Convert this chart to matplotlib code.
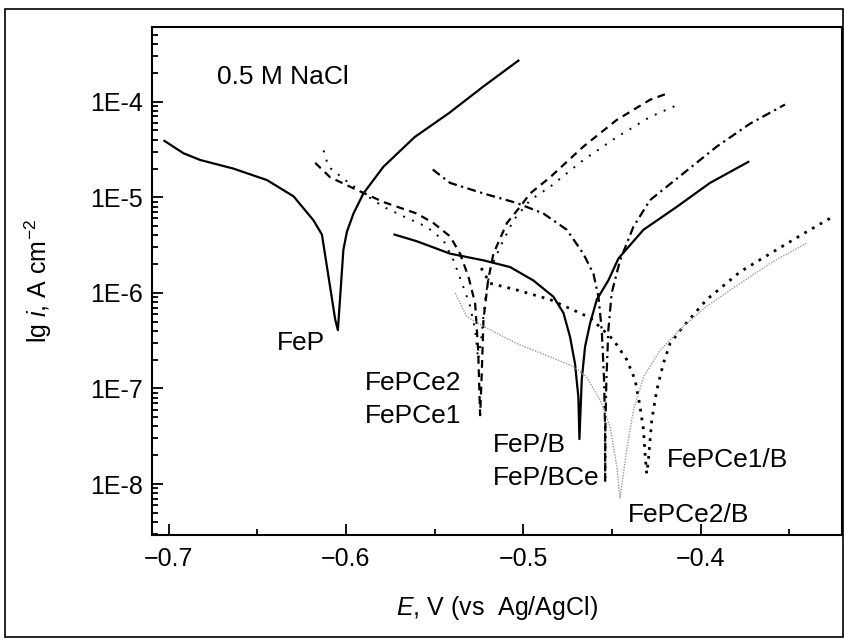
import matplotlib
matplotlib.use("Agg")
import matplotlib.pyplot as plt
import numpy as np
from matplotlib.patches import Rectangle
from matplotlib.ticker import FixedLocator, FixedFormatter, LogLocator, NullFormatter, MultipleLocator

plt.rcParams["font.family"] = ["Liberation Sans", "DejaVu Sans"]
plt.rcParams["mathtext.fontset"] = "custom"
plt.rcParams["mathtext.rm"] = "Liberation Sans"
plt.rcParams["mathtext.it"] = "Liberation Sans:italic"

# potentials E (V vs Ag/AgCl) and lg i (A cm-2)
fep_E = [-0.7023, -0.6915, -0.6821, -0.6634, -0.6445, -0.6295, -0.6183, -0.6135,
         -0.6060, -0.6045, -0.6014, -0.5994, -0.5957, -0.5901, -0.5788, -0.5612,
         -0.5419, -0.5224, -0.5027]
fep_lg = [-4.41, -4.54, -4.61, -4.70, -4.82, -4.99, -5.24, -5.39,
          -6.28, -6.39, -5.55, -5.36, -5.17, -4.96, -4.68, -4.37,
          -4.12, -3.84, -3.57]

fepb_E = [-0.5726, -0.5600, -0.5412, -0.5224, -0.5074, -0.4943, -0.4830, -0.4773,
          -0.4736, -0.4708, -0.4689, -0.4683, -0.4670, -0.4651, -0.4623, -0.4585,
          -0.4520, -0.4463, -0.4322, -0.4134, -0.3947, -0.3731]
fepb_lg = [-5.39, -5.46, -5.59, -5.66, -5.73, -5.87, -6.04, -6.21,
           -6.46, -6.74, -7.09, -7.53, -6.91, -6.56, -6.32, -6.07,
           -5.87, -5.64, -5.34, -5.10, -4.85, -4.63]

fepce_dash_E = [-0.6173, -0.6089, -0.5976, -0.5788, -0.5600, -0.5506, -0.5412, -0.5356,
                -0.5309, -0.5271, -0.5254, -0.5243, -0.5235, -0.5224, -0.5198, -0.5168,
                -0.5092, -0.5018, -0.4961, -0.4848, -0.4661, -0.4472, -0.4285, -0.4182]
fepce_dash_lg = [-4.64, -4.79, -4.89, -5.05, -5.17, -5.27, -5.41, -5.59,
                 -5.83, -6.11, -6.60, -7.28, -6.91, -6.28, -5.87, -5.59,
                 -5.27, -5.10, -4.96, -4.79, -4.47, -4.19, -3.98, -3.91]

fepce_dot_E = [-0.6126, -0.6098, -0.6004, -0.5901, -0.5788, -0.5675, -0.5543, -0.5450,
               -0.5393, -0.5337, -0.5299, -0.5271, -0.5254, -0.5237, -0.5215, -0.5187,
               -0.5130, -0.5055, -0.4961, -0.4848, -0.4661, -0.4472, -0.4285, -0.4138]
fepce_dot_lg = [-4.51, -4.68, -4.82, -4.96, -5.10, -5.20, -5.31, -5.45,
                -5.66, -5.94, -6.14, -6.39, -6.70, -6.49, -6.07, -5.76,
                -5.52, -5.24, -5.03, -4.89, -4.61, -4.37, -4.16, -4.04]

fepbce_E = [-0.5510, -0.5412, -0.5224, -0.5036, -0.4886, -0.4754, -0.4661, -0.4604,
            -0.4576, -0.4557, -0.4544, -0.4538, -0.4538, -0.4537, -0.4531, -0.4520,
            -0.4501, -0.4454, -0.4379, -0.4285, -0.4097, -0.3909, -0.3721, -0.3524]
fepbce_lg = [-4.71, -4.85, -4.96, -5.06, -5.17, -5.34, -5.59, -5.80,
             -6.04, -6.39, -6.91, -7.43, -7.98, -7.43, -6.91, -6.39,
             -6.00, -5.66, -5.31, -5.03, -4.75, -4.47, -4.23, -4.03]

fepce1b_E = [-0.5237, -0.5187, -0.5036, -0.4848, -0.4623, -0.4492, -0.4416, -0.4369,
             -0.4341, -0.4322, -0.4313, -0.4304, -0.4294, -0.4275, -0.4247, -0.4210,
             -0.4172, -0.4097, -0.3965, -0.3777, -0.3590, -0.3401, -0.3270]
fepce1b_lg = [-5.74, -5.90, -5.97, -6.07, -6.26, -6.49, -6.70, -6.91,
              -7.19, -7.43, -7.68, -7.89, -7.75, -7.33, -7.02, -6.74,
              -6.53, -6.35, -6.07, -5.78, -5.57, -5.36, -5.22]

fepce2b_E = [-0.5384, -0.5318, -0.5224, -0.5036, -0.4848, -0.4717, -0.4642, -0.4567,
             -0.4510, -0.4472, -0.4454, -0.4416, -0.4379, -0.4322, -0.4228, -0.4097,
             -0.3965, -0.3777, -0.3590, -0.3401]
fepce2b_lg = [-6.00, -6.25, -6.35, -6.53, -6.67, -6.77, -6.88, -7.12,
              -7.40, -7.82, -8.15, -7.64, -7.23, -6.88, -6.60, -6.35,
              -6.14, -5.90, -5.67, -5.48]

labels = ["0.5 M NaCl", "FeP", "FePCe2", "FePCe1", "FeP/B", "FeP/BCe", "FePCe1/B", "FePCe2/B"]
label_E = [-0.6725, -0.6390, -0.5891, -0.5891, -0.5170, -0.5170, -0.4189, -0.4409]
label_lg = [-3.81, -6.60, -7.02, -7.36, -7.66, -8.01, -7.82, -8.40]

yticks = [1e-8, 1e-7, 1e-6, 1e-5, 1e-4]
ytick_labels = ["1E-8", "1E-7", "1E-6", "1E-5", "1E-4"]
xticks = [-0.7, -0.6, -0.5, -0.4]

fig = plt.figure(figsize=(8.44, 6.40), dpi=100)
ax = fig.add_axes([0.1797, 0.1641, 0.8176, 0.7932])

# outer frame around the whole figure
fig.patches.append(Rectangle((5 / 844, 3 / 640), 838 / 844, 628 / 640, transform=fig.transFigure,
                             fill=False, edgecolor="black", linewidth=1.2))

ax.plot(fep_E, 10 ** np.array(fep_lg), color="black", lw=1.6)
ax.plot(fepb_E, 10 ** np.array(fepb_lg), color="black", lw=1.6)
ax.plot(fepce_dash_E, 10 ** np.array(fepce_dash_lg), color="black", lw=1.6, dashes=(3.5, 2.5))
ax.plot(fepce_dot_E, 10 ** np.array(fepce_dot_lg), color="black", lw=1.4, dashes=(1, 4))
ax.plot(fepbce_E, 10 ** np.array(fepbce_lg), color="black", lw=1.6, dashes=(4, 2, 1, 2))
ax.plot(fepce1b_E, 10 ** np.array(fepce1b_lg), color="black", lw=2.0, dashes=(1, 2.2))
ax.plot(fepce2b_E, 10 ** np.array(fepce2b_lg), color="#9a9a9a", lw=1.0, dashes=(1, 1))

for t, e, lg in zip(labels, label_E, label_lg):
    ax.text(e, 10 ** lg, t, fontsize=19, ha="left", va="baseline")

ax.set_yscale("log")
ax.set_xlim(-0.7095, -0.3204)
ax.set_ylim(10 ** -8.533, 10 ** -3.222)

ax.yaxis.set_major_locator(FixedLocator(yticks))
ax.yaxis.set_major_formatter(FixedFormatter(ytick_labels))
ax.yaxis.set_minor_locator(LogLocator(base=10, subs=np.arange(2, 10), numticks=20))
ax.yaxis.set_minor_formatter(NullFormatter())
ax.set_xticks(xticks)
ax.xaxis.set_minor_locator(MultipleLocator(0.05))

ax.tick_params(which="both", direction="in", labelsize=18, width=1.3)
ax.tick_params(axis="x", pad=9)
ax.tick_params(axis="y", pad=6)
ax.tick_params(which="major", length=8)
ax.tick_params(which="minor", length=4.5)
for s in ax.spines.values():
    s.set_linewidth(1.5)

ax.set_xlabel(r"$\it{E}$, V (vs  Ag/AgCl)", fontsize=18, labelpad=16)
ax.set_ylabel(r"lg $\it{i}$, A cm$^{-2}$", fontsize=18, labelpad=26)

fig.savefig("out.png", dpi=100)
